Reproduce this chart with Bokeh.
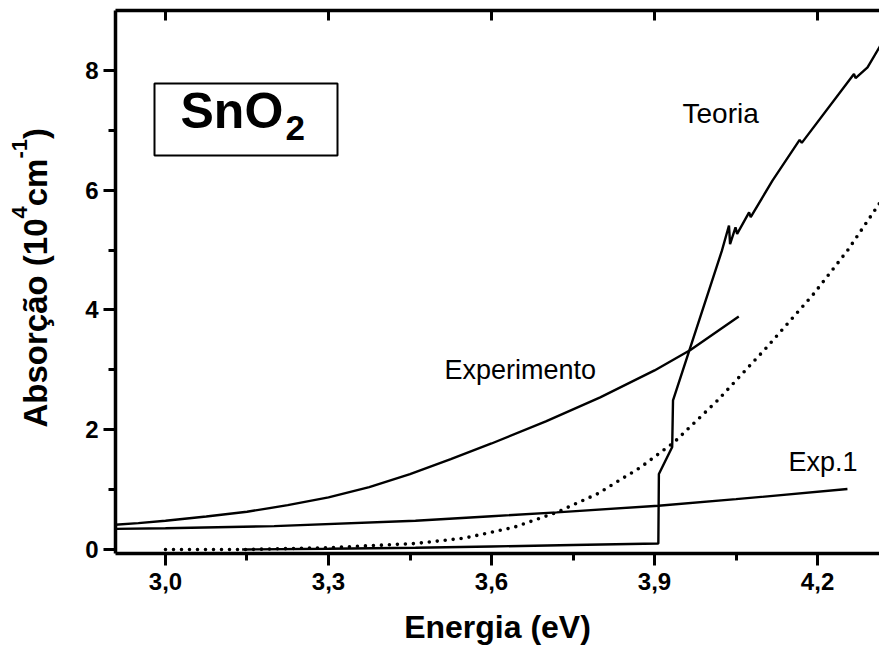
from bokeh.plotting import figure
from bokeh.models import LinearAxis, FixedTicker, Label, BoxAnnotation, Range1d
from bokeh.layouts import row
from bokeh.embed import file_html
from bokeh.resources import INLINE

# ---------------- data ----------------
experimento_E = [2.90, 2.95, 3.00, 3.075, 3.15, 3.225, 3.30, 3.375, 3.45, 3.525, 3.60, 3.70, 3.80, 3.90, 3.966, 4.055]
experimento_A = [0.41, 0.44, 0.48, 0.55, 0.63, 0.74, 0.87, 1.04, 1.26, 1.51, 1.77, 2.14, 2.54, 2.99, 3.33, 3.89]

exp1_E = [2.90, 3.00, 3.20, 3.46, 3.60, 3.72, 3.907, 4.05, 4.255]
exp1_A = [0.345, 0.355, 0.39, 0.48, 0.555, 0.62, 0.73, 0.84, 1.01]

teoria_E = [3.141, 3.30, 3.46, 3.60, 3.75, 3.907, 3.908, 3.9325, 3.934, 4.006, 4.024, 4.037, 4.039,
            4.049, 4.052, 4.074, 4.077, 4.117, 4.167, 4.171, 4.267, 4.270, 4.292, 4.314, 4.33]
teoria_A = [0.0, 0.012, 0.03, 0.05, 0.075, 0.10, 1.26, 1.71, 2.49, 4.49, 4.99, 5.41, 5.10,
            5.38, 5.27, 5.63, 5.55, 6.16, 6.84, 6.79, 7.94, 7.87, 8.05, 8.39, 8.62]

dotted_E = [3.00, 3.15, 3.30, 3.46, 3.55, 3.641, 3.72, 3.795, 3.874, 3.936, 4.015, 4.107, 4.193, 4.255, 4.314, 4.33]
dotted_A = [0.0, 0.0, 0.03, 0.10, 0.19, 0.37, 0.62, 0.93, 1.37, 1.79, 2.48, 3.38, 4.27, 4.99, 5.78, 6.0]

x_ticks = [3.0, 3.3, 3.6, 3.9, 4.2]
x_tick_labels = ["3,0", "3,3", "3,6", "3,9", "4,2"]
x_minor = [3.15, 3.45, 3.75, 4.05]
y_ticks = [0, 2, 4, 6, 8]
y_minor = [1, 3, 5, 7]

X0, X1 = 2.908, 4.314
Y0, Y1 = -0.067, 9.0

FONT = "Liberation Sans"
W, H = 879, 652
LW = 60                      # width of the narrow strip holding the y title
FL, FR, FT, FB = 115, 879, 10, 553   # frame edges on the page

# page-pixel -> data helpers for annotations inside the frame
def dx(px):
    return X0 + (px - FL) / (FR - FL) * (X1 - X0)

def dy(py):
    return Y1 - (py - FT) / (FB - FT) * (Y1 - Y0)

# ---------------- main plot ----------------
p = figure(width=W - LW, height=H, output_backend="svg", toolbar_location=None,
           x_range=Range1d(X0, X1), y_range=Range1d(Y0, Y1),
           x_axis_location=None, y_axis_location=None,
           min_border_left=FL - LW, min_border_right=0, min_border_top=FT,
           min_border_bottom=H - FB)
p.outline_line_color = None
p.xgrid.visible = False
p.ygrid.visible = False
p.background_fill_color = "white"
p.border_fill_color = "white"

xt = FixedTicker(ticks=x_ticks, minor_ticks=x_minor)
yt = FixedTicker(ticks=y_ticks, minor_ticks=y_minor)
top_t = FixedTicker(ticks=[], minor_ticks=x_ticks)

xaxis = LinearAxis(ticker=xt, axis_label="Energia (eV)",
                   major_label_overrides=dict(zip(x_ticks, x_tick_labels)))
yaxis = LinearAxis(ticker=yt)
topaxis = LinearAxis(ticker=top_t)

for ax in (xaxis, yaxis, topaxis):
    ax.axis_line_width = 3.5
    ax.axis_line_color = "black"
    ax.major_tick_line_width = 3
    ax.minor_tick_line_width = 3
    ax.major_tick_line_color = "black"
    ax.minor_tick_line_color = "black"
    ax.major_label_text_font = FONT
    ax.major_label_text_font_style = "bold"
    ax.major_label_text_color = "black"
    ax.axis_label_text_font = FONT
    ax.axis_label_text_font_style = "bold"
    ax.axis_label_text_color = "black"

for ax in (xaxis, yaxis):
    ax.major_tick_in = 0
    ax.major_tick_out = 12
    ax.minor_tick_in = 0
    ax.minor_tick_out = 7
    ax.major_label_text_font_size = "24px"

xaxis.major_label_standoff = 7
xaxis.axis_label_text_font_size = "32px"
xaxis.axis_label_standoff = 16
yaxis.major_label_standoff = 5

topaxis.major_tick_in = 0
topaxis.major_tick_out = 0
topaxis.minor_tick_in = 10
topaxis.minor_tick_out = 0

p.add_layout(xaxis, "below")
p.add_layout(yaxis, "left")
p.add_layout(topaxis, "above")

# ---------------- curves ----------------
p.line(experimento_E, experimento_A, line_color="black", line_width=2.4)
p.line(exp1_E, exp1_A, line_color="black", line_width=2.3)
p.line(teoria_E, teoria_A, line_color="black", line_width=2.4)
p.line(dotted_E, dotted_A, line_color="black", line_width=3.6, line_dash="0 8", line_cap="round")

# ---------------- annotations ----------------
def mid(baseline, fs):
    # anchor for text_baseline="middle" so that the alphabetic baseline lands on `baseline`
    return baseline - 0.35 * fs

p.add_layout(BoxAnnotation(left=dx(154), right=dx(337), top=dy(83), bottom=dy(155),
                           fill_alpha=0, fill_color=None, line_color="black", line_width=2,
                           line_alpha=1))
p.add_layout(Label(x=dx(180), y=dy(mid(128, 50)), text="SnO", text_font=FONT, text_font_style="bold",
                   text_font_size="50px", text_align="left", text_baseline="middle",
                   text_color="black"))
p.add_layout(Label(x=dx(285), y=dy(mid(140, 35)), text="2", text_font=FONT, text_font_style="bold",
                   text_font_size="35px", text_align="left", text_baseline="middle",
                   text_color="black"))

for txt, px, py, fs in (("Teoria", 682, 123, 28), ("Experimento", 444, 379, 27), ("Exp.1", 788, 471, 27)):
    p.add_layout(Label(x=dx(px), y=dy(mid(py, fs)), text=txt, text_font=FONT,
                       text_font_size=f"{fs}px", text_align="left", text_baseline="middle",
                       text_color="black"))

# ---------------- strip with the rotated y title ----------------
# its frame is aligned with the main frame by the row layout, so the y range spans FT..FB (page px)
t = figure(width=LW, height=H, output_backend="svg", toolbar_location=None,
           x_range=Range1d(0, LW), y_range=Range1d(FB, FT),
           x_axis_location=None, y_axis_location=None,
           min_border=0, min_border_left=0, min_border_right=0, min_border_top=FT,
           min_border_bottom=H - FB)
t.outline_line_color = None
t.xgrid.visible = False
t.ygrid.visible = False
t.background_fill_color = "white"
t.border_fill_color = "white"

pieces = [("Absorção (10", 427, 47, 33), ("4", 218.0, 27, 22), ("cm", 205.8, 47, 33),
          ("-1", 158.1, 27, 22), (")", 138.5, 47, 33)]
for txt, py, bx, fs in pieces:
    t.add_layout(Label(x=bx - 0.35 * fs, y=py, text=txt, angle=90, angle_units="deg",
                       text_font=FONT, text_font_style="bold", text_font_size=f"{fs}px",
                       text_align="left", text_baseline="middle", text_color="black"))

layout = row(t, p, spacing=0)
open("out.html", "w").write(file_html(layout, INLINE))
